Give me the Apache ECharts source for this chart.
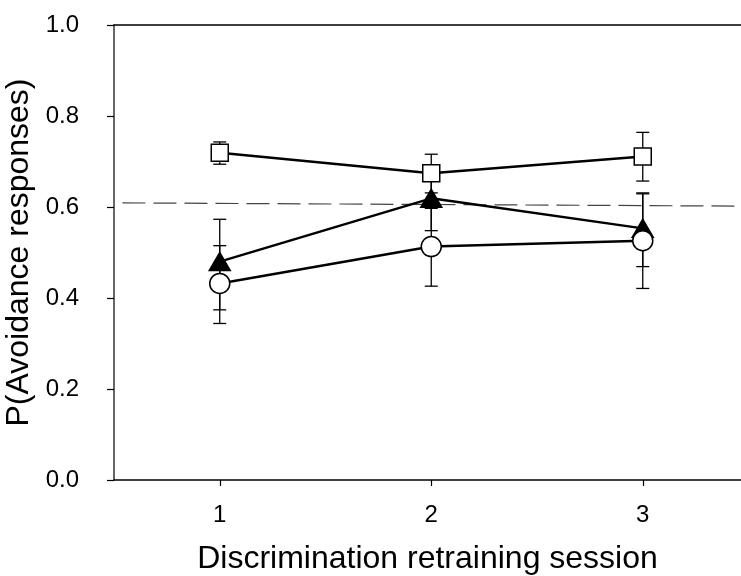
<!DOCTYPE html>
<html>
<head>
<meta charset="utf-8">
<style>
  html, body { margin: 0; padding: 0; background: #fff; }
  #chart { width: 741px; height: 576px; }
</style>
<script src="https://cdn.jsdelivr.net/npm/echarts@6/dist/echarts.min.js"></script>
</head>
<body>
<div id="chart"></div>
<script>
// Sessions on the x axis
const sessions = [1, 2, 3];

// Open squares: mean and error-bar limits
const squareMean = [0.719, 0.674, 0.711];
const squareLow  = [0.694, 0.631, 0.657];
const squareHigh = [0.743, 0.716, 0.764];

// Filled triangles
const triangleMean = [0.480, 0.619, 0.553];
const triangleLow  = [0.374, 0.548, 0.469];
const triangleHigh = [0.573, 0.678, 0.629];

// Open circles
const circleMean = [0.432, 0.513, 0.526];
const circleLow  = [0.344, 0.426, 0.421];
const circleHigh = [0.515, 0.597, 0.631];

// Dashed reference line end points
const referenceX = [0.54, 3.4645];
const referenceY = [0.609, 0.602];

// Axis ticks
const yTicks = [0, 0.2, 0.4, 0.6, 0.8, 1.0];
const xTicks = [1, 2, 3];

const FONT = "'Liberation Sans', Arial, sans-serif";
const NARROW = "'Liberation Sans Narrow', 'Arial Narrow', 'Liberation Sans', Arial, sans-serif";

function pairs(xs, ys) { return xs.map((x, i) => [x, ys[i]]); }
function bars(xs, lo, hi) { return xs.map((x, i) => [x, lo[i], hi[i]]); }

function errorBarSeries(data) {
  return {
    type: 'custom',
    data: data,
    encode: { x: 0, y: [1, 2] },
    silent: true,
    renderItem: function (params, api) {
      const x = api.value(0);
      const pLo = api.coord([x, api.value(1)]);
      const pHi = api.coord([x, api.value(2)]);
      const hw = 6.5;
      const st = { stroke: '#000', lineWidth: 1.3 };
      return {
        type: 'group',
        children: [
          { type: 'line', shape: { x1: pLo[0], y1: pLo[1], x2: pHi[0], y2: pHi[1] }, style: st },
          { type: 'line', shape: { x1: pHi[0] - hw, y1: pHi[1], x2: pHi[0] + hw, y2: pHi[1] }, style: st },
          { type: 'line', shape: { x1: pLo[0] - hw, y1: pLo[1], x2: pLo[0] + hw, y2: pLo[1] }, style: st }
        ]
      };
    }
  };
}

function meanSeries(data, symbol, size, fill) {
  return {
    type: 'line',
    data: data,
    symbol: symbol,
    symbolSize: size,
    showAllSymbol: true,
    lineStyle: { color: '#000', width: 2.5 },
    itemStyle: { color: fill, borderColor: '#000', borderWidth: 1.5 },
    emphasis: { disabled: true },
    animation: false
  };
}

const chart = echarts.init(document.getElementById('chart'), null, { renderer: 'canvas' });

chart.setOption({
  animation: false,
  backgroundColor: '#fff',
  textStyle: { fontFamily: FONT },
  grid: { left: 114, top: 25, width: 627, height: 455, outerBoundsMode: 'none', containLabel: false },
  xAxis: [
    {
      type: 'value',
      min: 0.5,
      max: 3.4645,
      name: 'Discrimination retraining session',
      nameLocation: 'middle',
      nameGap: 63,
      nameTextStyle: { fontSize: 32, color: '#000', fontFamily: FONT },
      axisLine: { show: true, onZero: false, lineStyle: { color: '#000', width: 1.5 } },
      axisTick: { show: true, inside: false, length: 6, customValues: xTicks, lineStyle: { color: '#000', width: 1.2 } },
      axisLabel: { customValues: xTicks, fontSize: 24, color: '#000', margin: 23, fontFamily: NARROW },
      splitLine: { show: false }
    },
    {
      type: 'value',
      position: 'top',
      min: 0.5,
      max: 3.4645,
      axisLine: { show: true, onZero: false, lineStyle: { color: '#000', width: 1.5 } },
      axisTick: { show: false },
      axisLabel: { show: false },
      splitLine: { show: false }
    }
  ],
  yAxis: {
    type: 'value',
    min: 0,
    max: 1,
    interval: 0.2,
    name: 'P(Avoidance responses)',
    nameLocation: 'middle',
    nameGap: 74,
    nameTextStyle: { fontSize: 32, color: '#000', fontFamily: FONT },
    axisLine: { show: true, lineStyle: { color: '#333', width: 1.5 } },
    axisTick: { show: true, inside: false, length: 7, lineStyle: { color: '#000', width: 1.2 } },
    axisLabel: {
      fontSize: 24, color: '#000', margin: 35, fontFamily: NARROW,
      formatter: function (v) { return yTicks.some(t => Math.abs(t - v) < 1e-9) ? v.toFixed(1) : ''; }
    },
    splitLine: { show: false }
  },
  series: [
    {
      type: 'line',
      data: pairs(referenceX, referenceY),
      symbol: 'none',
      lineStyle: { color: '#444', width: 1.2, type: [23, 8] },
      silent: true,
      z: 1
    },
    errorBarSeries(bars(sessions, squareLow, squareHigh)),
    meanSeries(pairs(sessions, squareMean), 'rect', 17, '#fff'),
    errorBarSeries(bars(sessions, triangleLow, triangleHigh)),
    meanSeries(pairs(sessions, triangleMean), 'triangle', [21, 18], '#000'),
    errorBarSeries(bars(sessions, circleLow, circleHigh)),
    meanSeries(pairs(sessions, circleMean), 'circle', 20, '#fff')
  ]
});
</script>
</body>
</html>
